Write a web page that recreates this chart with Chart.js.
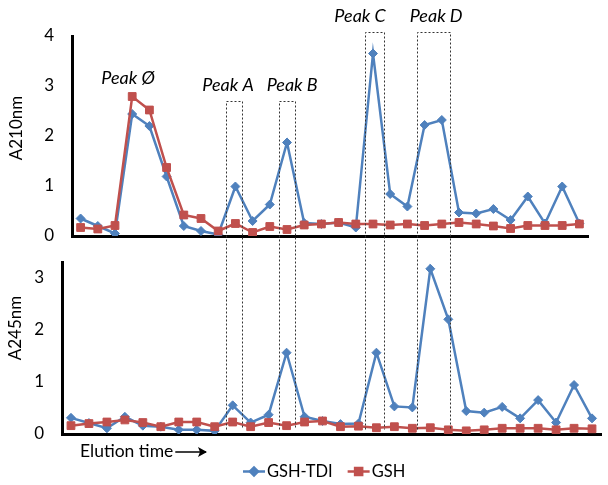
<!DOCTYPE html>
<html>
<head>
<meta charset="utf-8">
<script src="https://cdn.jsdelivr.net/npm/chart.js@4.4.1/dist/chart.umd.min.js"></script>
<style>
  body { margin: 0; background: #fff; }
  #wrap { position: relative; width: 608px; height: 485px; }
  #wrap canvas { position: absolute; left: 0; top: 0; }
</style>
</head>
<body>
<div id="wrap">
  <canvas id="topChart" width="608" height="485"></canvas>
  <canvas id="bottomChart" width="608" height="485"></canvas>
</div>
<script>
// fraction number along the elution
const fractions = [1, 2, 3, 4, 5, 6, 7, 8, 9, 10, 11, 12, 13, 14, 15,
                   16, 17, 18, 19, 20, 21, 22, 23, 24, 25, 26, 27, 28, 29, 30];

// absorbance at 210 nm
const gshTdi210 = [0.35, 0.2, 0.05, 2.44, 2.2, 1.19, 0.2, 0.1, 0.03, 0.99, 0.3, 0.63, 1.87, 0.26, 0.24,
                   0.27, 0.17, 3.65, 0.84, 0.59, 2.22, 2.32, 0.47, 0.45, 0.54, 0.32, 0.79, 0.25, 0.99, 0.25];
const gsh210 = [0.17, 0.14, 0.21, 2.79, 2.52, 1.37, 0.42, 0.35, 0.1, 0.25, 0.07, 0.19, 0.13, 0.22, 0.24,
                0.27, 0.24, 0.24, 0.22, 0.24, 0.21, 0.24, 0.27, 0.24, 0.2, 0.15, 0.21, 0.21, 0.21, 0.24];

// absorbance at 245 nm
const gshTdi245 = [0.31, 0.21, 0.11, 0.33, 0.16, 0.14, 0.08, 0.08, 0.06, 0.55, 0.22, 0.37, 1.56, 0.33, 0.25,
                   0.19, 0.2, 1.56, 0.53, 0.51, 3.17, 2.2, 0.44, 0.41, 0.52, 0.3, 0.65, 0.22, 0.94, 0.3];
const gsh245 = [0.16, 0.2, 0.23, 0.27, 0.22, 0.14, 0.23, 0.23, 0.14, 0.23, 0.14, 0.22, 0.16, 0.23, 0.25,
                0.14, 0.15, 0.12, 0.14, 0.11, 0.12, 0.08, 0.06, 0.08, 0.11, 0.11, 0.11, 0.08, 0.11, 0.1];

const ticks210 = [0, 1, 2, 3, 4];
const ticks245 = [0, 1, 2, 3];

// peak windows, in fraction index units (from, to) and top in A210 units
const peakNames = ["Peak A", "Peak B", "Peak C", "Peak D"];
const peakFrom = [8.46, 11.56, 16.54, 19.55];
const peakTo = [9.41, 12.49, 17.65, 21.45];
const peakTop = [2.7, 2.7, 4.07, 4.07];
// label centre, in fraction index units
const peakLabelAt = [8.57, 12.3, 16.25, 20.67];

const BLUE = "#4F81BD";
const RED = "#C0504D";
const FONT = "Lato, 'Open Sans', sans-serif";

function seriesSets(blue, red) {
  return [
    { label: "GSH-TDI", data: blue, borderColor: BLUE, backgroundColor: BLUE, borderWidth: 2.5,
      pointStyle: "rectRot", pointRadius: 4.5, pointBorderWidth: 1, order: 2, tension: 0 },
    { label: "GSH", data: red, borderColor: RED, backgroundColor: RED, borderWidth: 2.5,
      pointStyle: "rect", pointRadius: 5.5, pointBorderWidth: 1, order: 1, tension: 0 }
  ];
}

function buildOptions(maxY, tickList, yWidth, pad) {
  return {
    responsive: false,
    animation: false,
    layout: { padding: pad },
    plugins: { legend: { display: false }, tooltip: { enabled: false } },
    scales: {
      x: {
        type: "category", offset: true,
        ticks: { display: false },
        grid: { display: false, drawTicks: false },
        border: { color: "#000", width: 3 },
        afterFit: s => { s.height = 0; }
      },
      y: {
        min: 0, max: maxY,
        afterBuildTicks: s => { s.ticks = tickList.map(v => ({ value: v })); },
        ticks: { padding: 18, color: "#000", font: { family: FONT, size: 17 } },
        grid: { display: false, drawTicks: false },
        border: { color: "#000", width: 3 },
        afterFit: s => { s.width = yWidth; }
      }
    }
  };
}

function rotatedText(ctx, text, x, y) {
  ctx.save();
  ctx.translate(x, y);
  ctx.rotate(-Math.PI / 2);
  ctx.fillText(text, 0, 0);
  ctx.restore();
}

const topChart = new Chart(document.getElementById("topChart"), {
  type: "line",
  data: { labels: fractions, datasets: seriesSets(gshTdi210, gsh210) },
  options: buildOptions(4, ticks210, 72, { left: 0, top: 36, right: 20, bottom: 249 }),
  plugins: [{
    id: "topText",
    afterDraw(chart) {
      const ctx = chart.ctx, x = chart.scales.x, y = chart.scales.y;
      ctx.save();
      ctx.fillStyle = "#000";
      ctx.textAlign = "center";
      ctx.textBaseline = "middle";
      ctx.font = "17px " + FONT;
      rotatedText(ctx, "A210nm", 17, 128);
      ctx.font = "italic 18px " + FONT;
      ctx.fillText("Peak Ø", x.getPixelForValue(2.76), y.getPixelForValue(3.16));
      ctx.restore();
    }
  }]
});

const bottomChart = new Chart(document.getElementById("bottomChart"), {
  type: "line",
  data: { labels: fractions, datasets: seriesSets(gshTdi245, gsh245) },
  options: buildOptions(3.3, ticks245, 62, { left: 0, top: 262, right: 7, bottom: 51 }),
  plugins: [{
    id: "bottomText",
    afterDraw(chart) {
      const ctx = chart.ctx, yb = chart.scales.y;
      const xt = topChart.scales.x, yt = topChart.scales.y;
      ctx.save();
      // dashed peak windows spanning both panels
      ctx.strokeStyle = "#333";
      ctx.lineWidth = 1;
      ctx.setLineDash([2, 2]);
      ctx.fillStyle = "#000";
      ctx.textAlign = "center";
      ctx.textBaseline = "middle";
      ctx.font = "italic 18px " + FONT;
      peakNames.forEach((name, i) => {
        const x0 = Math.round(xt.getPixelForValue(peakFrom[i])) + 0.5;
        const x1 = Math.round(xt.getPixelForValue(peakTo[i])) + 0.5;
        const top = Math.round(yt.getPixelForValue(peakTop[i])) + 0.5;
        const bot = Math.round(yb.getPixelForValue(0.1)) + 0.5;
        ctx.beginPath();
        ctx.moveTo(x0, bot);
        ctx.lineTo(x0, top);
        ctx.lineTo(x1, top);
        ctx.lineTo(x1, bot);
        ctx.stroke();
        ctx.fillText(name, xt.getPixelForValue(peakLabelAt[i]), top - 16);
      });
      ctx.setLineDash([]);

      ctx.font = "17px " + FONT;
      rotatedText(ctx, "A245nm", 16, 328);

      // elution arrow
      ctx.textAlign = "left";
      ctx.font = "17.5px " + FONT;
      ctx.fillText("Elution time", 80, 451);
      const tw = ctx.measureText("Elution time").width;
      ctx.strokeStyle = "#000";
      ctx.lineWidth = 1.5;
      ctx.beginPath();
      ctx.moveTo(80 + tw + 2, 452);
      ctx.lineTo(206, 452);
      ctx.stroke();
      ctx.beginPath();
      ctx.moveTo(207, 452);
      ctx.lineTo(198, 447);
      ctx.lineTo(200, 452);
      ctx.lineTo(198, 457);
      ctx.closePath();
      ctx.fillStyle = "#000";
      ctx.fill();

      // legend
      const ly = 471.5;
      let lx = 243;
      chart.data.datasets.forEach(ds => {
        ctx.strokeStyle = ds.borderColor;
        ctx.fillStyle = ds.borderColor;
        ctx.lineWidth = 2.5;
        ctx.beginPath();
        ctx.moveTo(lx, ly);
        ctx.lineTo(lx + 22, ly);
        ctx.stroke();
        Chart.helpers.drawPoint(ctx, { pointStyle: ds.pointStyle, radius: ds.pointStyle === "rect" ? 5 : 4, borderWidth: 1 }, lx + 11, ly);
        ctx.fillStyle = "#000";
        ctx.font = "16.5px " + FONT;
        ctx.fillText(ds.label, lx + 24, ly);
        lx += 24 + ctx.measureText(ds.label).width + 15;
      });
      ctx.restore();
    }
  }]
});
</script>
</body>
</html>
